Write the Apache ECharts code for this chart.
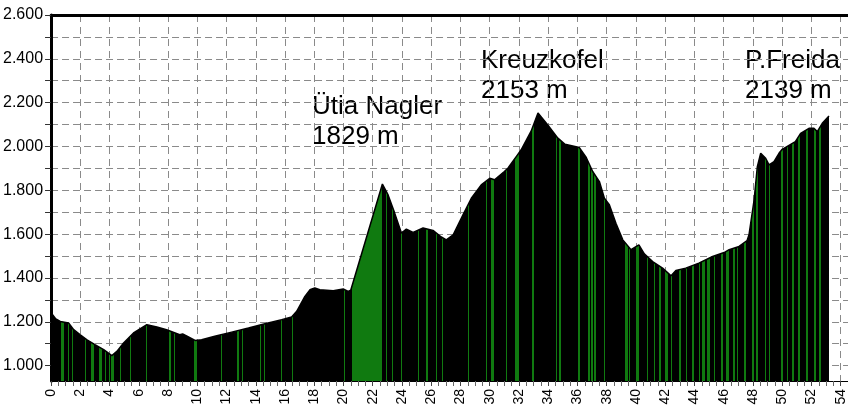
<!DOCTYPE html>
<html>
<head>
<meta charset="utf-8">
<script src="https://cdn.jsdelivr.net/npm/echarts@6/dist/echarts.min.js"></script>
<style>
  html, body { margin: 0; padding: 0; background: #fff; }
  #chart { width: 848px; height: 417px; }
</style>
</head>
<body>
<div id="chart"></div>
<script>
// profile: distance (km) and elevation (m)
var distKm = [0, 0.3, 0.63, 1.2, 1.55, 2.0, 2.46, 3.0, 3.6, 4.16, 4.5, 4.96, 5.64, 6.55, 7.24, 7.9, 8.8, 9.0, 9.3, 9.85,
  10.3, 11.2, 12.35, 13.5, 14.63, 15.77, 16.45, 16.8, 17.36, 17.7, 18.04, 18.38, 19.3, 19.98, 20.32, 20.5, 22.66,
  23.05, 23.5, 23.96, 24.3, 24.76, 25.44, 26.12, 26.69, 27.03, 27.5, 28.17, 28.74, 29.42, 30.0, 30.33, 31.0, 31.24,
  31.9, 32.15, 32.83, 33.3, 33.97, 34.66, 35.15, 36.13, 36.6, 37.04, 37.5, 37.84, 38.18, 38.63, 39.1, 39.66, 40.2,
  40.57, 41.14, 41.82, 42.4, 42.73, 43.4, 44.3, 45.24, 46.03, 46.37, 47.05, 47.6, 47.73, 48.08, 48.3, 48.53, 48.87,
  49.1, 49.44, 49.78, 50.0, 50.9, 51.26, 51.83, 52.17, 52.4, 52.74, 53.2];
var elevM = [1242, 1215, 1202, 1195, 1164, 1141, 1118, 1096, 1073, 1046, 1065, 1103, 1149, 1187, 1176, 1164, 1141, 1145, 1135, 1115,
  1118, 1134, 1153, 1172, 1191, 1210, 1222, 1248, 1316, 1346, 1354, 1346, 1342, 1350, 1339, 1345, 1829,
  1779, 1696, 1605, 1623, 1608, 1628, 1617, 1587, 1574, 1597, 1688, 1764, 1825, 1855, 1848, 1886, 1901,
  1962, 1985, 2070, 2153, 2098, 2038, 2010, 1995, 1950, 1886, 1840, 1764, 1734, 1650, 1574, 1529, 1551,
  1510, 1475, 1445, 1410, 1434, 1445, 1468, 1498, 1516, 1529, 1544, 1571, 1597, 1757, 1908, 1969, 1946,
  1916, 1931, 1969, 1987, 2022, 2060, 2083, 2083, 2068, 2106, 2139];

// green sections [from km, to km]
var greenKm = [[0.68, 0.91], [1.14, 1.25], [1.43, 1.5], [2.34, 2.41], [2.75, 2.96], [3.26, 3.48], [3.7, 3.77],
  [3.94, 4.01], [4.12, 4.28], [4.69, 4.76], [5.37, 5.44], [6.51, 6.58], [8.1, 8.19], [8.42, 8.49],
  [9.78, 10.01], [11.64, 11.71], [12.7, 12.85], [13.08, 13.15], [14.27, 14.34], [14.53, 14.6], [15.7, 15.77],
  [16.5, 16.57], [20.02, 20.09], [20.55, 22.6], [22.93, 23.0], [23.34, 23.41], [23.96, 24.03], [25.1, 25.17],
  [25.62, 25.78], [26.35, 26.42], [26.76, 26.83], [28.51, 28.58], [29.76, 29.83], [30.06, 30.28], [31.13, 31.2],
  [31.74, 31.97], [32.9, 33.06], [34.54, 34.61], [34.72, 34.88], [36.02, 36.2], [36.74, 36.88], [36.93, 37.04],
  [37.15, 37.27], [37.84, 37.91], [39.27, 39.43], [39.54, 39.61], [40.0, 40.18], [40.75, 40.82], [41.21, 41.32],
  [41.55, 41.71], [42.0, 42.17], [42.39, 42.46], [42.96, 43.05], [43.41, 43.48], [43.82, 43.94], [44.28, 44.39],
  [44.5, 44.69], [44.89, 45.05], [45.33, 45.4], [45.8, 45.92], [46.14, 46.33], [46.64, 46.78], [46.88, 47.0],
  [47.39, 47.51], [47.92, 48.08], [48.19, 48.37], [48.83, 48.92], [49.1, 49.17], [49.9, 50.08], [50.35, 50.42],
  [50.7, 50.81], [51.1, 51.19], [51.6, 51.79], [52.17, 52.29], [52.51, 52.63]];

var yLabels = [1000, 1200, 1400, 1600, 1800, 2000, 2200, 2400, 2600];
var yGrid = [1000, 1100, 1200, 1300, 1400, 1500, 1600, 1700, 1800, 1900, 2000, 2100, 2200, 2300, 2400, 2500, 2600];

var peakNames = ['Ütia Nagler', 'Kreuzkofel', 'P.Freida'];
var peakElev = [1829, 2153, 2139];

var profile = distKm.map(function (d, i) { return [d, elevM[i]]; });
var green = '#107a10';
var peakPos = [[312, 92], [481, 46], [745, 46]];

var myChart = echarts.init(document.getElementById('chart'));
var option = {
  animation: false,
  grid: { left: 49, right: 0, top: 15, bottom: 36 },
  xAxis: [{
    type: 'value', min: 0, max: 54.5, interval: 2,
    axisLine: { lineStyle: { color: '#000', width: 1 } },
    axisTick: { length: 5, lineStyle: { color: '#444' } },
    minorTick: { show: true, splitNumber: 4, length: 5, lineStyle: { color: '#666' } },
    axisLabel: { rotate: 90, margin: 8, fontSize: 14, color: '#000', fontFamily: 'Liberation Sans', showMaxLabel: false },
    splitLine: { show: true, lineStyle: { color: '#8a8a8a', type: [7, 5], width: 1 } }
  }, {
    type: 'value', position: 'top', min: 0, max: 54.5,
    axisLine: { show: true, lineStyle: { color: '#000', width: 3 } },
    axisTick: { show: false }, axisLabel: { show: false }, splitLine: { show: false }
  }],
  yAxis: {
    type: 'value', min: 930, max: 2600,
    axisLine: { show: true, lineStyle: { color: '#000', width: 3 } },
    axisTick: { show: true, length: 6, customValues: yGrid, lineStyle: { color: '#333' } },
    axisLabel: {
      customValues: yLabels, margin: 8, fontSize: 16, color: '#000',
      fontFamily: 'Liberation Sans',
      formatter: function (v) { return (v / 1000).toFixed(3); }
    },
    splitLine: { show: true, lineStyle: { color: '#8a8a8a', type: [7, 4], width: 1 } }
  },
  visualMap: {
    show: false, type: 'piecewise', dimension: 0, seriesIndex: 0,
    pieces: greenKm.map(function (g) { return { gte: g[0], lte: g[1], color: green }; }),
    outOfRange: { color: '#000' }
  },
  series: [{
    type: 'line', data: profile, showSymbol: false, silent: true,
    lineStyle: { width: 0 }, areaStyle: { opacity: 1 }
  }, {
    type: 'line', data: profile, showSymbol: false, silent: true,
    lineStyle: { color: '#000', width: 1.5 }
  }],
  graphic: peakNames.map(function (n, i) {
    return {
      type: 'text', left: peakPos[i][0], top: peakPos[i][1], silent: true,
      style: { text: n + '\n' + peakElev[i] + ' m', fontSize: 26, lineHeight: 30, fill: '#000', fontFamily: 'Liberation Sans' }
    };
  })
};
myChart.setOption(option);
</script>
</body>
</html>
